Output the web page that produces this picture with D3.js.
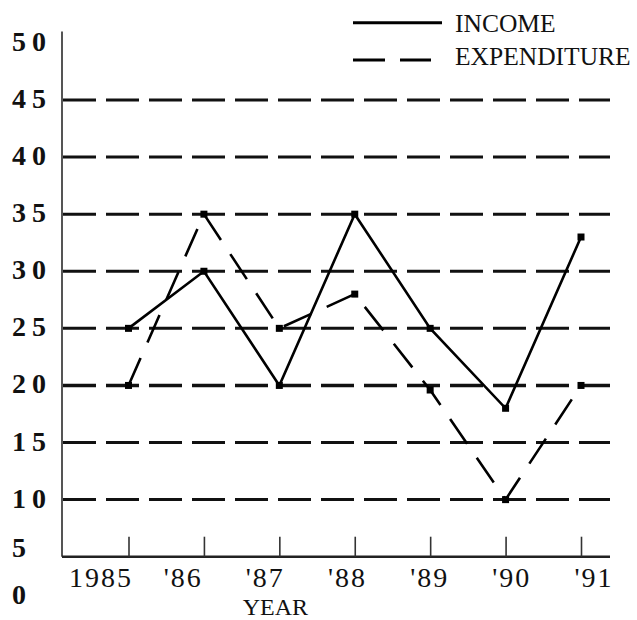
<!DOCTYPE html>
<html><head><meta charset="utf-8">
<script src="https://cdn.jsdelivr.net/npm/d3@7"></script>
<style>body{margin:0;background:#fff}</style>
</head><body><svg id="c" width="637" height="620"></svg>
<script>
const years = [1985,1986,1987,1988,1989,1990,1991];
const yearLabels = ["1985","'86","'87","'88","'89","'90","'91"];
const income = [25,30,20,35,25,18,33];
const expenditure = [20,35,25,28,19.6,10,20];
const yTicks = [50,45,40,35,30,25,20,15,10,5,0];
const gridValues = [45,40,35,30,25,20,15,10];
const seriesNames = ["INCOME","EXPENDITURE"];
const axisTitle = "YEAR";

(function(){
const svg = d3.select("#c");
const serif = "'Liberation Serif','Times New Roman',serif";
const x = d3.scaleLinear().domain([1985,1991]).range([128.5,581]);
const xl = d3.scaleLinear().domain([1985,1991]).range([100,593]);
const y = d3.scaleLinear().domain([0,50]).range([613.8,42.9]);
const left = 62, right = 610, base = y(5), axisTop = y(51);

// gridlines
svg.append("g").selectAll("line").data(gridValues).join("line")
  .attr("x1", left+1).attr("x2", right).attr("y1", d=>y(d)).attr("y2", d=>y(d))
  .attr("stroke","#111").attr("stroke-width", d=>d===20?3.6:3)
  .attr("stroke-dasharray","33,10");

// axes
svg.append("line").attr("x1",left).attr("x2",left).attr("y1",axisTop).attr("y2",base)
  .attr("stroke","#555").attr("stroke-width",2);
svg.append("line").attr("x1",left).attr("x2",right).attr("y1",base).attr("y2",base)
  .attr("stroke","#222").attr("stroke-width",2.4);
const xa = svg.append("g").attr("transform",`translate(0,${base})`)
  .call(d3.axisBottom(x).tickValues(years).tickSize(-20).tickFormat(""));
xa.select(".domain").remove();
xa.selectAll(".tick line").attr("stroke","#333").attr("stroke-width",1.6);

// y labels
svg.append("g").selectAll("text").data(yTicks).join("text")
  .attr("x",12)
  .attr("y", d => d>=10 ? y(d)+8 : (d===5 ? base : base+47))
  .attr("font-family",serif).attr("font-weight","bold").attr("font-size",28)
  .attr("letter-spacing",6).attr("fill","#111")
  .text(d=>String(d));

// x labels
svg.append("g").selectAll("text").data(years).join("text")
  .attr("x", d=>xl(d)+1).attr("y", 586.5).attr("text-anchor","middle")
  .attr("font-family",serif).attr("font-size",28).attr("letter-spacing",2).attr("fill","#111")
  .text((d,i)=>yearLabels[i]);
svg.append("text").attr("x", x(1987)-4).attr("y",615).attr("text-anchor","middle")
  .attr("font-family",serif).attr("font-size",24).attr("fill","#111").text(axisTitle);

// series
const line = d3.line().x((d,i)=>x(years[i])).y(d=>y(d));
svg.append("path").datum(income).attr("d",line).attr("fill","none")
  .attr("stroke","#000").attr("stroke-width",2.6).attr("stroke-linejoin","miter");
svg.append("path").datum(expenditure).attr("d",line).attr("fill","none")
  .attr("stroke","#000").attr("stroke-width",2.6).attr("stroke-dasharray","30,17");
[income, expenditure].forEach(s=>{
  svg.append("g").selectAll("rect").data(s).join("rect")
    .attr("x",(d,i)=>x(years[i])-3.5).attr("y",d=>y(d)-3.5)
    .attr("width",7).attr("height",7).attr("fill","#000");
});

// legend
svg.append("line").attr("x1",353).attr("x2",442).attr("y1",22.7).attr("y2",22.7)
  .attr("stroke","#000").attr("stroke-width",3);
svg.append("line").attr("x1",353).attr("x2",431).attr("y1",60).attr("y2",60)
  .attr("stroke","#000").attr("stroke-width",3).attr("stroke-dasharray","32,15");
svg.append("g").selectAll("text").data(seriesNames).join("text")
  .attr("x",455).attr("y",(d,i)=>i===0?31.7:65)
  .attr("font-family",serif).attr("font-size",25.5).attr("fill","#111")
  .text(d=>d);
})();
</script></body></html>
